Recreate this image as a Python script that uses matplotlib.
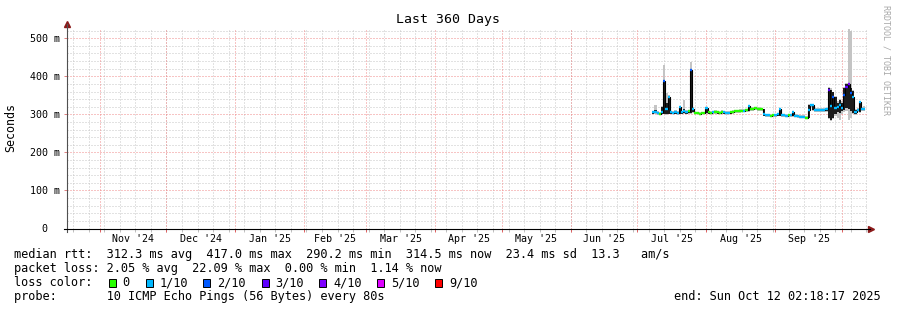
import datetime as dt
import numpy as np
import matplotlib
matplotlib.use('Agg')
import matplotlib.pyplot as plt
from matplotlib.patches import Rectangle

# time span of the graph
end_time = dt.datetime(2025, 10, 12, 2, 18, 17)
span_days = 360
start_time = end_time - dt.timedelta(days=span_days)

# one sample per day (days since start)
day = np.arange(264, 360)
median_ms = [305, 307, 303, 302, 306, 387, 315, 346, 305, 304, 307, 303, 320, 305, 310, 306,
             308, 417, 315, 303, 303, 302, 303, 303, 318, 305, 304, 306, 307, 305, 304, 307,
             305, 304, 304, 305, 307, 308, 308, 309, 310, 310, 311, 321, 315, 315, 316, 315,
             315, 314, 300, 298, 298, 297, 298, 298, 300, 313, 298, 298, 297, 298, 298, 307,
             296, 295, 294, 294, 294, 290, 312, 324, 324, 312, 312, 312, 312, 312, 313, 365,
             322, 345, 318, 320, 325, 316, 350, 372, 380, 355, 345, 306, 311, 332, 314, 315]
loss = [1, 1, 1, 0, 1, 2, 1, 1, 1, 1, 1, 1, 1, 1, 1, 1,
        0, 2, 1, 0, 0, 0, 0, 0, 1, 0, 0, 1, 0, 0, 0, 0,
        1, 1, 1, 0, 0, 0, 0, 0, 0, 1, 0, 1, 0, 0, 0, 0,
        0, 0, 1, 1, 1, 0, 0, 1, 1, 1, 1, 1, 1, 0, 1, 1,
        1, 1, 1, 1, 1, 0, 1, 1, 1, 1, 1, 1, 1, 1, 1, 3,
        1, 2, 1, 1, 1, 1, 2, 3, 4, 2, 1, 1, 1, 1, 1, 1]
# dense smoke (dark) and outer smoke (light grey)
smoke_lo = [302, 303, 300, 299, 301, 302, 300, 302, 301, 301, 302, 300, 302, 302, 303, 302,
            304, 303, 305, 301, 301, 300, 301, 301, 303, 302, 302, 303, 304, 302, 302, 304,
            302, 301, 301, 302, 304, 305, 305, 306, 307, 307, 308, 309, 312, 312, 313, 312,
            312, 311, 297, 295, 295, 294, 295, 295, 297, 297, 295, 295, 294, 295, 295, 296,
            293, 292, 291, 291, 291, 288, 291, 321, 312, 309, 309, 309, 309, 309, 309, 290,
            285, 290, 300, 305, 303, 308, 312, 318, 315, 310, 303, 300, 308, 306, 311, 312]
smoke_hi = [308, 312, 306, 304, 320, 387, 330, 346, 308, 306, 310, 305, 321, 307, 313, 309,
            310, 417, 318, 305, 305, 304, 305, 305, 318, 307, 306, 308, 309, 307, 306, 309,
            307, 306, 306, 307, 309, 310, 310, 311, 312, 312, 313, 321, 317, 317, 318, 317,
            317, 316, 313, 300, 300, 299, 300, 300, 302, 313, 300, 300, 299, 300, 300, 307,
            298, 297, 296, 296, 296, 293, 324, 326, 326, 314, 314, 314, 314, 314, 316, 370,
            365, 358, 345, 330, 337, 330, 370, 381, 382, 368, 362, 312, 313, 332, 316, 317]
outer_lo = [300, 301, 299, 298, 300, 300, 299, 300, 300, 300, 301, 299, 300, 300, 301, 300,
            302, 301, 303, 300, 300, 299, 300, 300, 301, 301, 300, 301, 302, 301, 300, 302,
            301, 300, 300, 301, 302, 303, 303, 304, 305, 305, 306, 307, 310, 310, 311, 310,
            310, 309, 296, 294, 294, 293, 294, 294, 296, 295, 294, 294, 293, 294, 294, 294,
            292, 291, 290, 290, 290, 287, 290, 319, 310, 307, 307, 307, 307, 307, 307, 287,
            283, 288, 296, 290, 284, 300, 305, 310, 284, 290, 300, 298, 306, 304, 309, 310]
outer_hi = [310, 324, 308, 306, 322, 429, 357, 350, 310, 309, 312, 308, 323, 309, 337, 311,
            312, 438, 320, 307, 306, 306, 306, 307, 320, 309, 308, 310, 311, 309, 308, 311,
            309, 308, 308, 309, 311, 312, 312, 313, 314, 314, 315, 323, 319, 319, 320, 319,
            319, 318, 315, 302, 302, 301, 302, 302, 304, 318, 302, 302, 301, 302, 302, 309,
            300, 299, 298, 298, 298, 295, 326, 328, 328, 316, 316, 316, 316, 316, 318, 372,
            368, 360, 348, 335, 340, 334, 372, 383, 525, 520, 365, 314, 316, 334, 320, 322]

# loss legend
loss_labels = ['0', '1/10', '2/10', '3/10', '4/10', '5/10', '9/10']
loss_colors = ['#26ff00', '#00b8ff', '#0059ff', '#5e00ff', '#7e00ff', '#dd00ff', '#ff0000']

legend_rtt = 'median rtt:  312.3 ms avg  417.0 ms max  290.2 ms min  314.5 ms now  23.4 ms sd  13.3   am/s'
legend_loss = 'packet loss: 2.05 % avg  22.09 % max  0.00 % min  1.14 % now'
legend_probe = 'probe:       10 ICMP Echo Pings (56 Bytes) every 80s'

W, H = 897, 310
MONO = 'DejaVu Sans Mono'
GRID = '#c6c6c6'
MGRID = '#f08a8a'
ARROW = '#8b1a1a'


def day_of(t):
    return (t - start_time).total_seconds() / 86400.0


def px(x, y):
    return x / W, 1 - y / H


def color_for(n):
    # 0,1,2,3,4 -> own colour, 5..8 -> 5/10, 9..10 -> 9/10
    if n <= 4:
        return loss_colors[n]
    if n <= 8:
        return loss_colors[5]
    return loss_colors[6]


fig = plt.figure(figsize=(W / 100, H / 100), dpi=100)
fig.patch.set_facecolor('white')
ax = fig.add_axes([66.7 / W, (H - 228.5) / H, 799.8 / W, 200.5 / H])
ax.set_xlim(0, span_days)
ax.set_ylim(0, 527)
for s in ax.spines.values():
    s.set_visible(False)

# month and week boundaries
months = []
y, m = 2024, 11
while True:
    t = dt.datetime(y, m, 1)
    if t > end_time:
        break
    months.append(t)
    y, m = (y + 1, 1) if m == 12 else (y, m + 1)
weeks = []
t = dt.datetime(2024, 10, 20)
while t < end_time:
    weeks.append(t)
    t += dt.timedelta(days=7)

dots = (0, (1, 2))
for w in weeks:
    ax.axvline(day_of(w), color=GRID, lw=0.72, ls=dots, zorder=0)
for v in range(20, 527, 20):
    if v % 100:
        ax.axhline(v, color=GRID, lw=0.72, ls=dots, zorder=0)
for mo in months:
    ax.axvline(day_of(mo), color=MGRID, lw=0.72, ls=dots, zorder=0.5)
for v in range(100, 527, 100):
    ax.axhline(v, color=MGRID, lw=0.72, ls=dots, zorder=0.5)

# smoke
med = np.array(median_ms, dtype=float)
ax.bar(day, np.array(outer_hi) - np.array(outer_lo), bottom=outer_lo, width=1.0,
       color='#c4c4c4', lw=0, zorder=2)
ax.bar(day, np.array(smoke_hi) - np.array(smoke_lo), bottom=smoke_lo, width=1.0,
       color='#1c1c1c', lw=0, zorder=3)
ax.step(day, med, where='mid', color='black', lw=0.8, zorder=4)
# median coloured by loss
ax.hlines(med, day - 0.5, day + 0.5, colors=[color_for(n) for n in loss], lw=1.7, zorder=5)

# ticks and labels
label_pos = []
label_txt = []
for i, mo in enumerate(months[:-1]):
    mid = day_of(mo) + (day_of(months[i + 1]) - day_of(mo)) / 2
    label_pos.append(mid)
    label_txt.append(mo.strftime("%b '%y"))
ax.set_xticks(label_pos, label_txt)
ax.set_xticks([day_of(w) for w in weeks], minor=True)
ax.tick_params(axis='x', which='major', length=0, pad=4.2, labelsize=7.2, labelfontfamily=MONO,
               colors='black')
ax.tick_params(axis='x', which='minor', length=2, width=0.7, color='#c0c0c0')
ax.vlines([day_of(mo) for mo in months], -0.016, 0, transform=ax.get_xaxis_transform(),
          color='#e06060', lw=0.7, clip_on=False)
ax.set_yticks([0, 100, 200, 300, 400, 500], ['0  ', '100 m', '200 m', '300 m', '400 m', '500 m'])
ax.tick_params(axis='y', length=2.2, width=0.7, color='#e08080', pad=2.5, labelsize=7.2,
               labelfontfamily=MONO)

# axis lines with arrows
ax.plot([0, 0], [-0.015, 1.02], transform=ax.transAxes, color='#505050', lw=0.8,
        clip_on=False, zorder=6)
ax.plot([-0.004, 1.004], [0, 0], transform=ax.transAxes, color='black', lw=0.8,
        clip_on=False, zorder=6)
ax.plot([0], [1.02], marker='^', ms=4, color=ARROW, transform=ax.transAxes, clip_on=False)
ax.plot([1.0055], [0], marker='>', ms=4, color=ARROW, transform=ax.transAxes, clip_on=False)

# title, axis label, watermark
fig.text(*px(448, 19), 'Last 360 Days', ha='center', va='center', fontsize=9.5, family=MONO)
fig.text(*px(11, 127.5), 'Seconds', ha='center', va='center', rotation=90, fontsize=8.4,
         family=MONO)
fig.text(*px(886, 5), 'RRDTOOL / TOBI OETIKER', ha='center', va='top', rotation=270,
         fontsize=6, family=MONO, color='#a8a8a8')

# legend block (monospace rows)
fs = 8.54
fig.text(*px(14.2, 254.3), legend_rtt, va='center', fontsize=fs, family=MONO)
fig.text(*px(14.2, 268.3), legend_loss, va='center', fontsize=fs, family=MONO)
fig.text(*px(14.2, 282.5), 'loss color:', va='center', fontsize=fs, family=MONO)
box_x = [108.7, 145.7, 203.3, 261.7, 319.3, 377.3, 435]
text_x = [122.5, 159.7, 217.3, 275.7, 333, 391, 449]
for bx, tx, c, s in zip(box_x, text_x, loss_colors, loss_labels):
    fig.add_artist(Rectangle(px(bx, 287), 7 / W, 8 / H, transform=fig.transFigure,
                             facecolor=c, edgecolor='black', lw=0.7))
    fig.text(*px(tx, 282.5), s, va='center', fontsize=fs, family=MONO)
fig.text(*px(14.2, 296.3), legend_probe, va='center', fontsize=fs, family=MONO)
fig.text(*px(881, 296.3), 'end: ' + end_time.strftime('%a %b %d %H:%M:%S %Y'), ha='right',
         va='center', fontsize=fs, family=MONO)

fig.savefig('out.png', dpi=100)
